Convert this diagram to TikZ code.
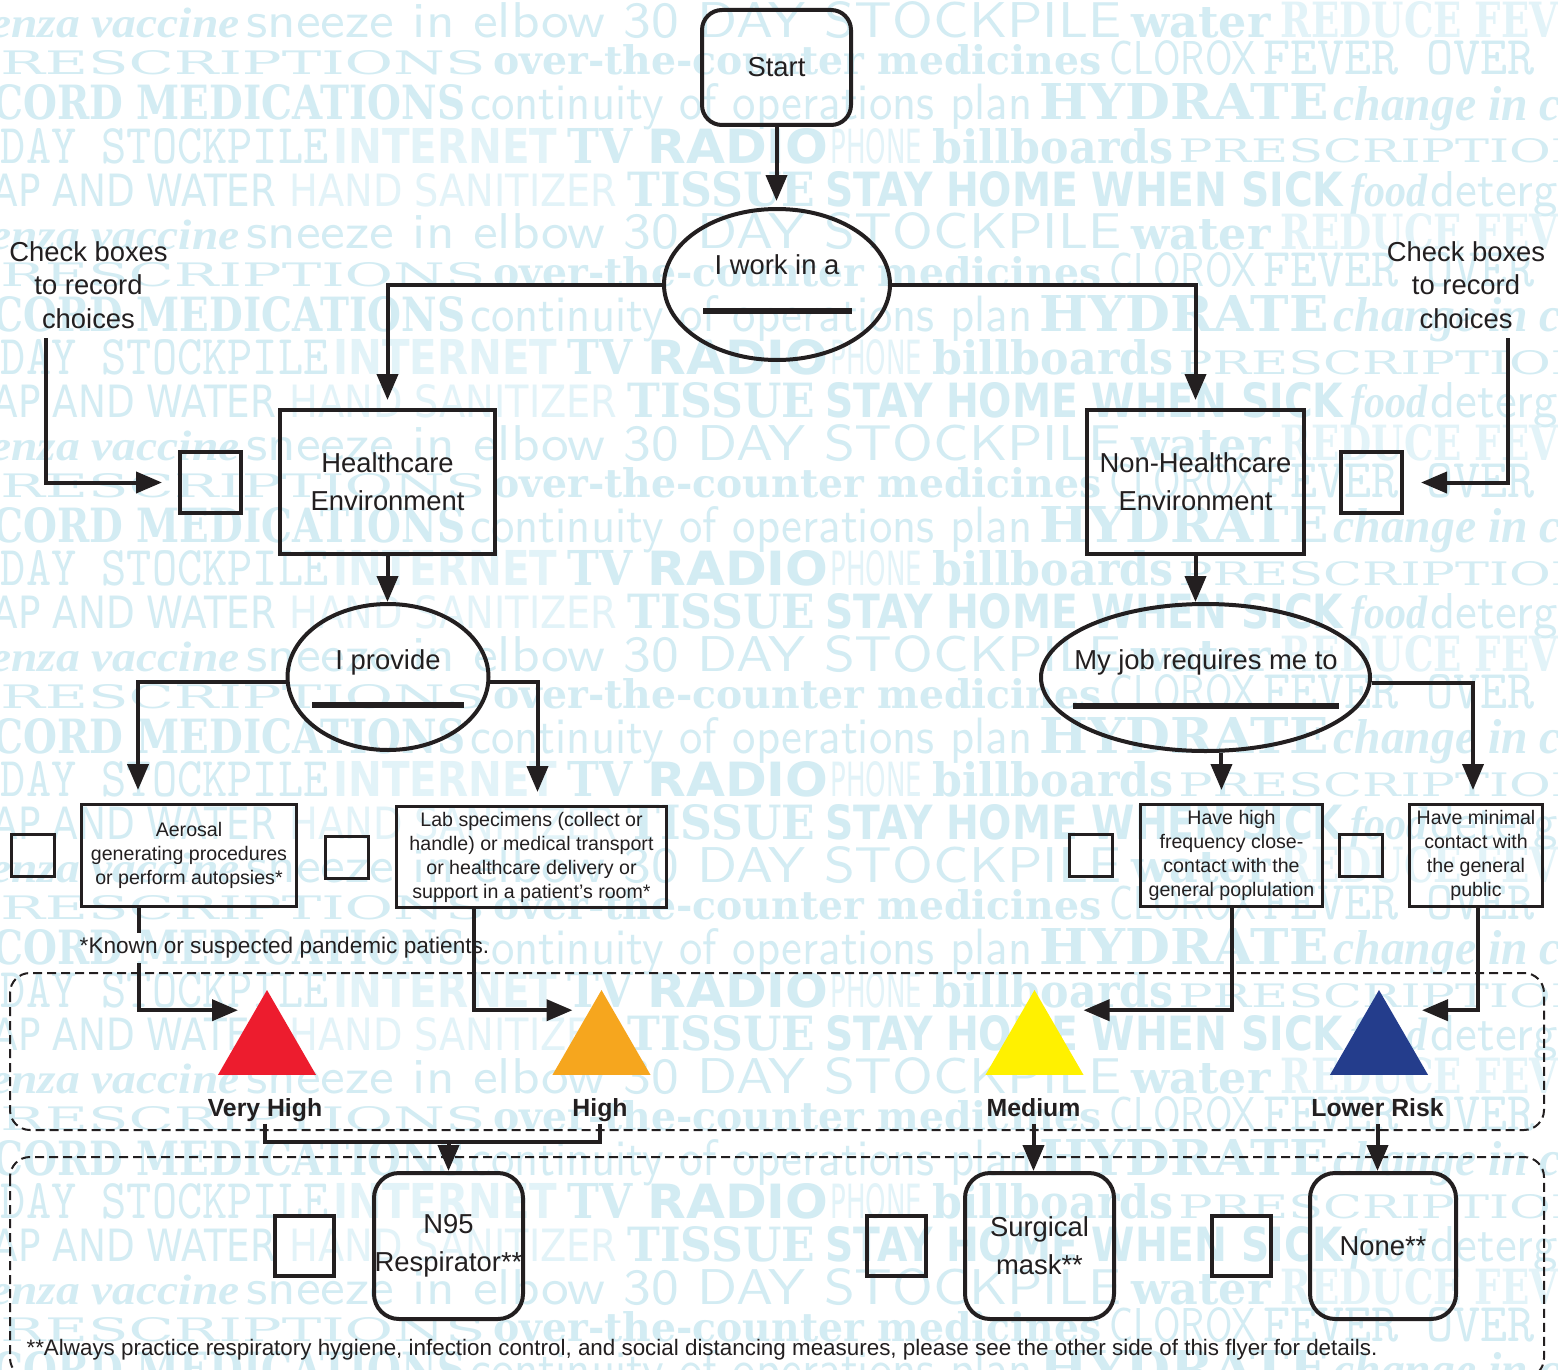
\documentclass[tikz,border=0pt]{standalone}
\usepackage{fontspec}
\usetikzlibrary{arrows.meta,shapes.geometric}
\newfontfamily\labfont{Liberation Sans}
\newfontfamily\serifwall{DejaVu Serif}
\newfontfamily\sanswall{DejaVu Sans}
\newfontfamily\italwall{Liberation Serif}
\definecolor{ink}{RGB}{35,31,32}
\definecolor{wallblue}{RGB}{211,236,243}
\definecolor{walllite}{RGB}{226,243,248}
\definecolor{riskred}{RGB}{237,28,46}
\definecolor{riskorange}{RGB}{246,166,30}
\definecolor{riskyellow}{RGB}{255,241,0}
\definecolor{riskblue}{RGB}{36,61,140}

% one word of the wallpaper: x from, x to, baseline, height, font, text
\newcommand\wword[6]{%
  \node[wallword] at (#1,#3) {\resizebox{\dimexpr(#2pt-#1pt)/2\relax}{\dimexpr#4pt/2\relax}{#5#6}};}
\newcommand\walltile{%
  \wword{-105}{239}{38}{30}{\italwall\bfseries\itshape}{influenza vaccine}
  \wword{246}{1121}{38}{36}{\sffamily}{sneeze in elbow 30 DAY STOCKPILE}
  \wword{1131}{1270}{38}{30}{\serifwall\bfseries}{water}
  \wword{1280}{1617}{38}{36}{\color{walllite}\serifwall\bfseries}{REDUCE FEVER}
  \wword{-40}{485}{75}{24}{\serifwall}{PRESCRIPTIONS}
  \wword{493}{1101}{75}{30}{\serifwall\bfseries}{over-the-counter medicines}
  \wword{1109}{1256}{75}{34}{\sffamily}{CLOROX}
  \wword{1263}{1643}{75}{34}{\ttfamily}{FEVER OVER 100}
  \wword{-70}{465}{120}{35}{\serifwall\bfseries}{RECORD MEDICATIONS}
  \wword{470}{1032}{120}{36}{\sffamily}{continuity of operations plan}
  \wword{1039}{1328}{120}{36}{\serifwall\bfseries}{HYDRATE}
  \wword{1333}{1640}{120}{34}{\italwall\bfseries\itshape}{change in color}
  \wword{-75}{328}{163}{35}{\ttfamily}{30 DAY STOCKPILE}
  \wword{333}{557}{163}{35}{\color{walllite}\sanswall\bfseries}{INTERNET}
  \wword{567}{632}{163}{35}{\serifwall\bfseries}{TV}
  \wword{647}{828}{163}{35}{\sanswall\bfseries}{RADIO}
  \wword{830}{922}{163}{35}{\color{walllite}\sanswall}{PHONE}
  \wword{932}{1173}{163}{35}{\serifwall\bfseries}{billboards}
  \wword{1178}{1630}{163}{24}{\serifwall}{PRESCRIPTIONS}
  \wword{-60}{276}{206}{33}{\sanswall}{SOAP AND WATER}
  \wword{289}{617}{206}{33}{\color{walllite}\sanswall}{HAND SANITIZER}
  \wword{627}{815}{206}{35}{\serifwall\bfseries}{TISSUE}
  \wword{825}{1343}{206}{35}{\sanswall\bfseries}{STAY HOME WHEN SICK}
  \wword{1350}{1427}{206}{33}{\italwall\bfseries\itshape}{food}
  \wword{1430}{1622}{206}{35}{\sffamily}{detergent}}

\begin{document}
\begin{tikzpicture}[x=0.5pt,y=-0.5pt,
  wallword/.style={anchor=base west,inner sep=0pt,text=wallblue},
  flowtext/.style={text=ink,align=center,font=\labfont\fontsize{13.7pt}{19pt}\selectfont},
  smalltext/.style={text=ink,align=center,font=\labfont\fontsize{9.8pt}{12pt}\selectfont},
  bigbox/.style={flowtext,draw=ink,line width=2pt,inner sep=0pt},
  roundbox/.style={bigbox,rounded corners=10pt},
  blob/.style={bigbox,ellipse},
  blank/.style={fill=ink,minimum height=3pt,inner sep=0pt},
  tickbox/.style={draw=ink,line width=2pt,inner sep=0pt,minimum width=30.5pt,minimum height=30.5pt},
  smallbox/.style={smalltext,draw=ink,line width=1.5pt,inner sep=0pt,minimum height=51pt},
  smalltick/.style={draw=ink,line width=1.5pt,inner sep=0pt,minimum width=21.5pt,minimum height=21pt},
  risk/.style={regular polygon,regular polygon sides=3,minimum size=56.6pt,inner sep=0pt},
  risktext/.style={text=ink,anchor=base,inner sep=1pt,text height=9pt,text depth=2.7pt,
    font=\labfont\bfseries\fontsize{12.4pt}{14pt}\selectfont},
  note/.style={text=ink,inner sep=0pt},
  line/.style={draw=ink,line width=2pt},
  arr/.style={line,-{Triangle[length=13pt,width=10.5pt]}},
  dashframe/.style={draw=ink,line width=1pt,dash pattern=on 4.5pt off 2.5pt,rounded corners=10pt}]

\fill[white] (0,0) rectangle (1558,1370);
\useasboundingbox (0,0) rectangle (1558,1370);

% wallpaper
\begin{scope}
\clip (0,0) rectangle (1558,1370);
\foreach \k in {0,...,6}{
  \begin{scope}[shift={(0,211*\k)}]
    \walltile
  \end{scope}}
\end{scope}

% dashed groups
\draw[dashframe] (10,973) rectangle (1544,1130);
\draw[dashframe] (10,1157) rectangle (1544,1378);

% top of the chart
\node[roundbox,minimum width=74.5pt,minimum height=57.5pt] (start) at (776.5,67.5) {Start};
\node[blob,minimum width=113pt,minimum height=75.5pt] (work) at (777,284.5) {};
\node[flowtext] (worktxt) at (777,265) {I work in a};
\node[blank,minimum width=74.5pt] (workblank) at (777.5,311) {};

\node[bigbox,minimum width=107.5pt,minimum height=72pt] (health) at (387.5,482) {Healthcare\\Environment};
\node[bigbox,minimum width=108.5pt,minimum height=72pt] (nonhealth) at (1195.5,482) {Non-Healthcare\\Environment};
\node[tickbox] (tickL) at (210.5,482.5) {};
\node[tickbox] (tickR) at (1371.5,482.5) {};
\node[flowtext,font=\labfont\fontsize{13.7pt}{16.8pt}\selectfont] (checkL) at (88.5,285) {Check boxes\\to record\\choices};
\node[flowtext,font=\labfont\fontsize{13.7pt}{16.8pt}\selectfont] (checkR) at (1466,285) {Check boxes\\to record\\choices};
\coordinate (checkLend) at (46,338);
\coordinate (checkRend) at (1508,338);

\node[blob,minimum width=100.5pt,minimum height=73pt] (provide) at (388,677) {};
\node[flowtext] (providetxt) at (388,662) {I provide};
\node[blank,minimum width=76pt] (provideblank) at (388,705) {};
\node[blob,minimum width=164.5pt,minimum height=73.5pt] (myjob) at (1205.5,677.5) {};
\node[flowtext] (myjobtxt) at (1206,662) {My job requires me to};
\node[blank,minimum width=133pt] (myjobblank) at (1206,706) {};

% what the job involves
\node[smallbox,minimum width=107.5pt] (aero) at (189,855.5) {Aerosal\\generating procedures\\or perform autopsies*};
\node[smallbox,minimum width=135pt,minimum height=50.5pt] (lab) at (531.5,857) {Lab specimens (collect or\\handle) or medical transport\\or healthcare delivery or\\support in a patient’s room*};
\node[smallbox,minimum width=91pt] (close) at (1231.5,855.5) {Have high\\frequency close-\\contact with the\\general poplulation};
\node[smallbox,minimum width=66.5pt] (minimal) at (1476,855.5) {Have minimal\\contact with\\the general\\public};
\node[smalltick] (tickA) at (33,855.5) {};
\node[smalltick] (tickB) at (346.5,857.5) {};
\node[smalltick] (tickC) at (1091,855.5) {};
\node[smalltick] (tickD) at (1361,855.5) {};
\node[note,minimum height=15pt,font=\labfont\fontsize{11.3pt}{13pt}\selectfont] (foot) at (284.5,948) {*Known or suspected pandemic patients.};

% risk levels
\node[risk,fill=riskred] (vhigh) at (267,1046.6) {};
\node[risk,fill=riskorange] (high) at (601.5,1046.6) {};
\node[risk,fill=riskyellow] (medium) at (1034.5,1046.6) {};
\node[risk,fill=riskblue] (low) at (1379,1046.6) {};
\node[risktext] (vhightxt) at (265,1116) {Very High};
\node[risktext] (hightxt) at (600,1116) {High};
\node[risktext] (mediumtxt) at (1033.5,1116) {Medium};
\node[risktext] (lowtxt) at (1377.5,1116) {Lower Risk};

% protection
\node[roundbox,minimum width=74.5pt,minimum height=73pt,rounded corners=12.5pt] (n95) at (448.5,1246) {N95\\Respirator**};
\node[roundbox,minimum width=74.5pt,minimum height=73pt,rounded corners=12.5pt] (surgical) at (1039.5,1246) {Surgical\\mask**};
\node[roundbox,minimum width=73pt,minimum height=73pt,rounded corners=12.5pt] (none) at (1383,1246) {None**};
\node[tickbox,minimum width=29.5pt,minimum height=30pt] (tickN) at (304.5,1246) {};
\node[tickbox,minimum width=29.5pt,minimum height=30pt] (tickS) at (896.5,1246) {};
\node[tickbox,minimum width=29.5pt,minimum height=30pt] (tickO) at (1241,1246) {};
\node[note,font=\labfont\fontsize{11.2pt}{13pt}\selectfont] (footer) at (702,1350) {**Always practice respiratory hygiene, infection control, and social distancing measures, please see the other side of this flyer for details.};

% connectors
\draw[arr,shorten >=3pt] (start.south) -- (start.south |- work.north);
\draw[arr,shorten >=4pt] (work.west) -| (health.north);
\draw[arr,shorten >=4pt] (work.east) -| (nonhealth.north);
\draw[arr,shorten >=8pt] (checkLend) |- (tickL.west);
\draw[arr,shorten >=8.5pt] (checkRend) |- (tickR.east);
\draw[arr] (health.south) -- (health.south |- provide.north);
\draw[arr] (nonhealth.south) -- (nonhealth.south |- myjob.north);
\draw[arr,shorten >=6.5pt] (provide.183) -| ([xshift=-25.5pt]aero.north);
\draw[arr,shorten >=6.5pt] (provide.357) -| ([xshift=3pt]lab.north);
\draw[arr,shorten >=6.5pt] (myjob.282) -- (myjob.282 |- close.north);
\draw[arr,shorten >=6.5pt] (myjob.358) -| ([xshift=-1.5pt]minimal.north);

\draw[line] ([xshift=-25pt]aero.south) -- ([xshift=-25pt]aero.south |- foot.north);
\draw[arr] ([xshift=-25pt]aero.south |- foot.south) |- ([xshift=-14.5pt,yshift=-10.5pt]vhigh.corner 1);
\draw[arr] ([xshift=-28.75pt]lab.south) |- ([xshift=-14.5pt,yshift=-10.5pt]high.corner 1);
\draw[arr] (close.south) |- ([xshift=24.5pt,yshift=-10.5pt]medium.corner 1);
\draw[arr] ([xshift=1pt]minimal.south) |- ([xshift=21.5pt,yshift=-10.5pt]low.corner 1);

\coordinate (vjoin) at (n95.north |- 0,1142);
\draw[line] (vhightxt.south) |- (vjoin) -| (hightxt.south);
\draw[arr] (vjoin) -- (n95.north);
\draw[arr] (mediumtxt.south) -- (mediumtxt.south |- surgical.north);
\draw[arr] (lowtxt.south) -- (lowtxt.south |- none.north);
\end{tikzpicture}
\end{document}
